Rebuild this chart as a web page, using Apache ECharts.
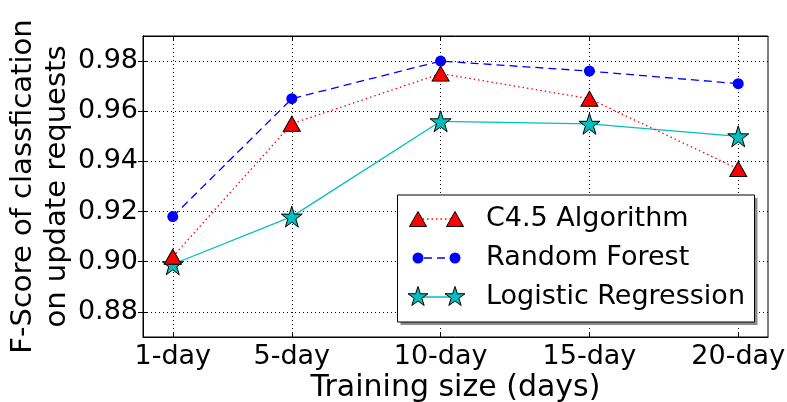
<!DOCTYPE html>
<html>
<head>
<meta charset="utf-8">
<script src="https://cdn.jsdelivr.net/npm/echarts@6/dist/echarts.min.js"></script>
<style>
  html, body { margin: 0; padding: 0; background: #fff; }
  #main { width: 787px; height: 402px; }
</style>
</head>
<body>
<div id="main"></div>
<script>
// training size in days (x positions) and tick labels
var days = [1, 5, 10, 15, 20];
var dayLabels = ['1-day', '5-day', '10-day', '15-day', '20-day'];
var yTicks = [0.88, 0.90, 0.92, 0.94, 0.96, 0.98];

// F-score per classifier
var c45 = [0.902, 0.955, 0.975, 0.965, 0.937];
var randomForest = [0.918, 0.965, 0.980, 0.976, 0.971];
var logistic = [0.899, 0.918, 0.956, 0.955, 0.950];

var seriesNames = ['C4.5 Algorithm', 'Random Forest', 'Logistic Regression'];

// 5 point star like matplotlib '*'
var STAR = 'path://M50 0 L61.23 34.55 L97.55 34.55 L68.16 55.9 L79.39 90.45 L50 69.1 L20.61 90.45 L31.84 55.9 L2.45 34.55 L38.77 34.55 Z';
var FONT = 'DejaVu Sans';

function pairs(vals) {
  return days.map(function (d, i) { return [d, vals[i]]; });
}

// star polygon for the hand drawn legend
function starPts(cx, cy, r) {
  var pts = [];
  for (var k = 0; k < 10; k++) {
    var a = -Math.PI / 2 + k * Math.PI / 5;
    var rr = k % 2 ? r * 0.382 : r;
    pts.push([cx + rr * Math.cos(a), cy + rr * Math.sin(a)]);
  }
  return pts;
}

var chart = echarts.init(document.getElementById('main'), null, { renderer: 'canvas' });

var option = {
  animation: false,
  backgroundColor: '#fff',
  textStyle: { fontFamily: FONT, color: '#000' },
  grid: {
    left: 143, right: 19, top: 36, bottom: 65,
    outerBoundsMode: 'none', containLabel: false,
    show: true, borderColor: '#000', borderWidth: 1, backgroundColor: 'transparent'
  },
  xAxis: [{
    type: 'value', min: 0, max: 21,
    name: 'Training size (days)', nameLocation: 'middle', nameGap: 36, nameMoveOverlap: false,
    nameTextStyle: { fontSize: 30, color: '#000', fontFamily: FONT },
    axisLine: { show: true, lineStyle: { color: '#000' } },
    axisTick: { show: true, inside: true, length: 5, customValues: days, lineStyle: { color: '#000' } },
    axisLabel: {
      fontSize: 27, color: '#000', fontFamily: FONT, margin: 6, customValues: days,
      formatter: function (v) { return dayLabels[days.indexOf(v)]; }
    },
    splitLine: { show: true, lineStyle: { color: '#000', type: [1, 3], width: 1 } }
  }, {
    type: 'value', min: 0, max: 21, position: 'top',
    axisLine: { show: true, lineStyle: { color: '#000' } },
    axisTick: { show: true, inside: true, length: 5, customValues: days, lineStyle: { color: '#000' } },
    axisLabel: { show: false },
    splitLine: { show: false }
  }],
  yAxis: [{
    type: 'value', min: 0.87, max: 0.99,
    name: 'F-Score of classfication\non update requests',
    nameLocation: 'middle', nameGap: 69, nameRotate: 90, nameMoveOverlap: false,
    nameTextStyle: { fontSize: 29, lineHeight: 34, color: '#000', fontFamily: FONT, align: 'center' },
    axisLine: { show: true, lineStyle: { color: '#000' } },
    axisTick: { show: true, inside: true, length: 5, customValues: yTicks, lineStyle: { color: '#000' } },
    axisLabel: {
      fontSize: 27, color: '#000', fontFamily: FONT, margin: 5, customValues: yTicks,
      formatter: function (v) { return v.toFixed(2); }
    },
    splitLine: { show: true, lineStyle: { color: '#000', type: [1, 3], width: 1 } }
  }, {
    type: 'value', min: 0.87, max: 0.99, position: 'right',
    axisLine: { show: true, lineStyle: { color: '#000' } },
    axisTick: { show: true, inside: true, length: 5, customValues: yTicks, lineStyle: { color: '#000' } },
    axisLabel: { show: false },
    splitLine: { show: false }
  }],
  series: [{
    name: seriesNames[2],
    type: 'line', z: 3,
    data: pairs(logistic),
    symbol: STAR, symbolSize: 21,
    itemStyle: { color: '#00bfbf', borderColor: '#000', borderWidth: 1 },
    lineStyle: { color: '#00bfbf', width: 1.3, type: 'solid' }
  }, {
    name: seriesNames[1],
    type: 'line', z: 4,
    data: pairs(randomForest),
    symbol: 'circle', symbolSize: 11,
    itemStyle: { color: '#0000ff', borderWidth: 0 },
    lineStyle: { color: '#0000ff', width: 1.3, type: [8, 5] }
  }, {
    name: seriesNames[0],
    type: 'line', z: 5,
    data: pairs(c45),
    symbol: 'triangle', symbolSize: [17, 15],
    itemStyle: { color: '#ff0000', borderColor: '#000', borderWidth: 1 },
    lineStyle: { color: '#ff0000', width: 1.3, type: [1.5, 3] }
  }],
  graphic: [
    // legend box with shadow
    { type: 'rect', shape: { x: 400.5, y: 198, width: 357, height: 127 }, style: { fill: '#8c8c8c' }, z: 100 },
    { type: 'rect', shape: { x: 397.5, y: 195, width: 357, height: 127 }, style: { fill: '#fff', stroke: '#000', lineWidth: 1 }, z: 101 },
    // C4.5 row
    { type: 'line', shape: { x1: 418, y1: 219, x2: 455, y2: 219 }, style: { stroke: '#ff0000', lineWidth: 1.3, lineDash: [1.5, 3] }, z: 102 },
    { type: 'polygon', shape: { points: [[418, 211.5], [409.5, 226.5], [426.5, 226.5]] }, style: { fill: '#ff0000', stroke: '#000', lineWidth: 1 }, z: 103 },
    { type: 'polygon', shape: { points: [[455, 211.5], [446.5, 226.5], [463.5, 226.5]] }, style: { fill: '#ff0000', stroke: '#000', lineWidth: 1 }, z: 103 },
    { type: 'text', x: 486, y: 219, style: { text: seriesNames[0], font: '27px "DejaVu Sans"', fill: '#000', verticalAlign: 'middle', align: 'left' }, z: 103 },
    // Random forest row
    { type: 'line', shape: { x1: 418, y1: 258, x2: 455, y2: 258 }, style: { stroke: '#0000ff', lineWidth: 1.3, lineDash: [8, 5], lineDashOffset: -6 }, z: 102 },
    { type: 'circle', shape: { cx: 418, cy: 258, r: 5.5 }, style: { fill: '#0000ff' }, z: 103 },
    { type: 'circle', shape: { cx: 455, cy: 258, r: 5.5 }, style: { fill: '#0000ff' }, z: 103 },
    { type: 'text', x: 486, y: 258, style: { text: seriesNames[1], font: '27px "DejaVu Sans"', fill: '#000', verticalAlign: 'middle', align: 'left' }, z: 103 },
    // Logistic row
    { type: 'line', shape: { x1: 418, y1: 297, x2: 455, y2: 297 }, style: { stroke: '#00bfbf', lineWidth: 1.3 }, z: 102 },
    { type: 'polygon', shape: { points: starPts(418, 297, 10.5) }, style: { fill: '#00bfbf', stroke: '#000', lineWidth: 1 }, z: 103 },
    { type: 'polygon', shape: { points: starPts(455, 297, 10.5) }, style: { fill: '#00bfbf', stroke: '#000', lineWidth: 1 }, z: 103 },
    { type: 'text', x: 486, y: 297, style: { text: seriesNames[2], font: '27px "DejaVu Sans"', fill: '#000', verticalAlign: 'middle', align: 'left' }, z: 103 }
  ]
};

chart.setOption(option);
</script>
</body>
</html>
